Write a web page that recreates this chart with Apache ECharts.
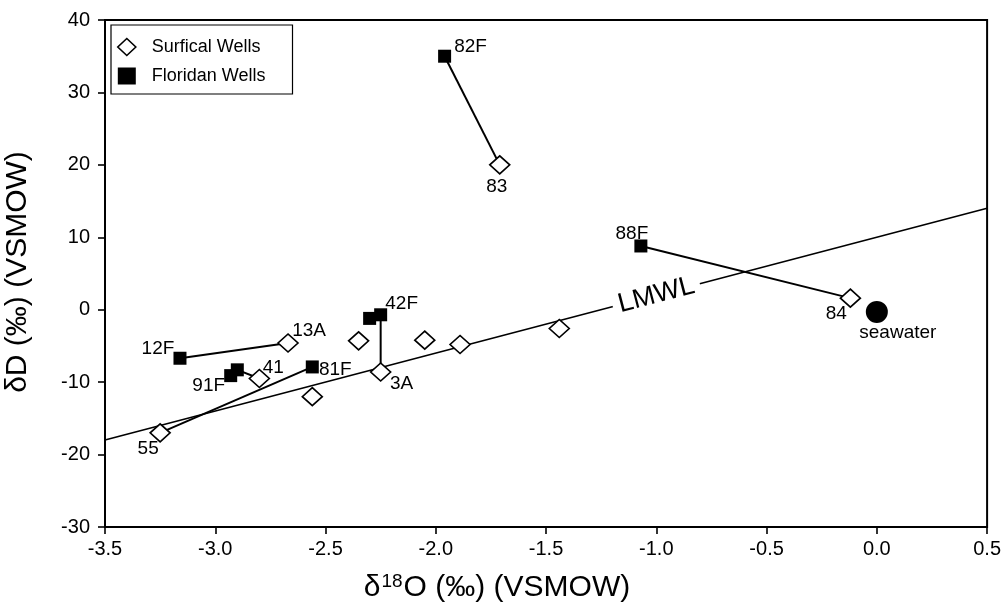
<!DOCTYPE html>
<html><head><meta charset="utf-8">
<script src="https://cdn.jsdelivr.net/npm/echarts@6/dist/echarts.min.js"></script>
<style>html,body{margin:0;padding:0;background:#fff}#c{width:1004px;height:605px}</style>
</head><body><div id="c"></div>
<script>
// Surficial wells
var surfNames = ['83','84','13A','','','','','3A','41','','55'];
var surfX = [-1.71,-0.12,-2.67,-2.35,-2.05,-1.89,-1.44,-2.25,-2.80,-2.56,-3.25];
var surfY = [20.0,1.6,-4.6,-4.3,-4.2,-4.8,-2.6,-8.6,-9.5,-12.0,-17.0];
// Floridan wells
var florNames = ['82F','88F','12F','91F','','81F','','42F'];
var florX = [-1.96,-1.07,-3.16,-2.93,-2.90,-2.56,-2.30,-2.25];
var florY = [35.0,8.8,-6.7,-9.1,-8.3,-7.9,-1.2,-0.7];
// Seawater
var seaX = [0.0];
var seaY = [-0.3];
// connecting pairs: [floridan index, surficial index]
var pairs = [[0,0],[1,1],[2,2],[4,8],[5,10],[7,7]];
// LMWL endpoints
var lmwlX = [-3.5, 0.5];
var lmwlY = [-18.0, 14.0];
var lmwlLabelAt = [-1.0, 2.0];
var xTicks = [-3.5,-3.0,-2.5,-2.0,-1.5,-1.0,-0.5,0.0,0.5];
var yTicks = [-30,-20,-10,0,10,20,30,40];

// label placement (style only): pixel offsets of label centre from the mark
var labelOffset = {
  '83':[-3,22], '84':[-14,16], '13A':[21,-12], '3A':[21,12], '41':[14,-11], '55':[-12,16],
  '82F':[26,-9], '88F':[-9,-12], '12F':[-22,-9], '91F':[-22,10], '81F':[23,3], '42F':[21,-11],
  'seawater':[21,21]
};
var font = 'Liberation Sans, Arial, Helvetica, sans-serif';
var labelFont = 19;
function mkLabel(txt){
  return {show:true, position:'inside', offset:labelOffset[txt], formatter:txt,
    color:'#000', fontSize:labelFont, fontFamily:font, textBorderWidth:0};
}
function mkData(xs, ys, names){
  return xs.map(function(x,i){
    var d = {value:[x, ys[i]], name:names[i]};
    if (names[i]) d.label = mkLabel(names[i]);
    return d;
  });
}
var series = [];
series.push({type:'line', data:lmwlX.map(function(x,i){return [x,lmwlY[i]];}),
  symbol:'none', lineStyle:{color:'#000',width:1.6}, z:1, silent:true});
pairs.forEach(function(p){
  series.push({type:'line', data:[[florX[p[0]],florY[p[0]]],[surfX[p[1]],surfY[p[1]]]],
    symbol:'none', lineStyle:{color:'#000',width:2}, z:2, silent:true});
});
series.push({type:'scatter', name:'LMWL', data:[lmwlLabelAt], symbolSize:0, z:3,
  itemStyle:{opacity:1},
  label:{show:true, position:'inside', formatter:'LMWL', rotate:14.7, fontSize:27,
    fontFamily:font, color:'#000', textBorderWidth:0, backgroundColor:'#fff', padding:[0,6]}});
series.push({type:'scatter', name:'Surfical Wells', symbol:'diamond', symbolSize:[20,18],
  itemStyle:{color:'#fff', borderColor:'#000', borderWidth:1.6, opacity:1}, z:5,
  data:mkData(surfX,surfY,surfNames)});
series.push({type:'scatter', name:'Floridan Wells', symbol:'rect', symbolSize:13,
  itemStyle:{color:'#000', borderColor:'#000', borderWidth:0, opacity:1}, z:6,
  data:mkData(florX,florY,florNames)});
series.push({type:'scatter', name:'seawater', symbol:'circle', symbolSize:22,
  itemStyle:{color:'#000', opacity:1}, z:6,
  data:[{value:[seaX[0],seaY[0]], label:mkLabel('seawater')}]});

var chart = echarts.init(document.getElementById('c'), null, {renderer:'canvas'});
chart.setOption({
  animation:false,
  backgroundColor:'#fff',
  grid:{left:105, right:16, top:20, bottom:78, show:true, borderColor:'#000', borderWidth:2},
  legend:{show:true, left:111, top:25, orient:'vertical',
    data:[{name:'Surfical Wells', icon:'diamond', itemStyle:{color:'#fff', borderColor:'#000', borderWidth:1.6}},
          {name:'Floridan Wells', icon:'rect'}],
    backgroundColor:'#fff', borderColor:'#000', borderWidth:1.2, borderRadius:0,
    padding:[12,27,8,6], itemGap:9, itemWidth:18, itemHeight:17,
    textStyle:{fontSize:18, fontFamily:font, color:'#000', lineHeight:20, padding:[0,0,0,11]}},
  xAxis:{type:'value', min:xTicks[0], max:xTicks[xTicks.length-1], interval:0.5,
    splitLine:{show:false},
    axisLine:{show:true, onZero:false, lineStyle:{color:'#000', width:2}},
    axisTick:{show:true, inside:false, length:7, lineStyle:{color:'#000', width:1.6}},
    axisLabel:{color:'#000', fontSize:20, fontFamily:font, margin:12,
      formatter:function(v){return v.toFixed(1);}}},
  yAxis:{type:'value', min:yTicks[0], max:yTicks[yTicks.length-1], interval:10,
    splitLine:{show:false},
    axisLine:{show:true, onZero:false, lineStyle:{color:'#000', width:2}},
    axisTick:{show:true, inside:false, length:7, lineStyle:{color:'#000', width:1.6}},
    axisLabel:{color:'#000', fontSize:20, fontFamily:font, margin:15}},
  graphic:[
    {type:'text', x:497, y:588,
      style:{text:'{a|δ}{s|18}{a|O (‰) (VSMOW)}', align:'center', verticalAlign:'middle',
        rich:{a:{fontSize:30, fontFamily:font, fill:'#000'},
              s:{fontSize:19, fontFamily:font, fill:'#000', verticalAlign:'top', padding:[0,1,12,1]}}}},
    {type:'text', x:18, y:272, rotation:Math.PI/2,
      style:{text:'δD (‰) (VSMOW)', align:'center', verticalAlign:'middle',
        fontSize:30, fontFamily:font, fill:'#000'}}
  ],
  series:series
});
</script></body></html>
